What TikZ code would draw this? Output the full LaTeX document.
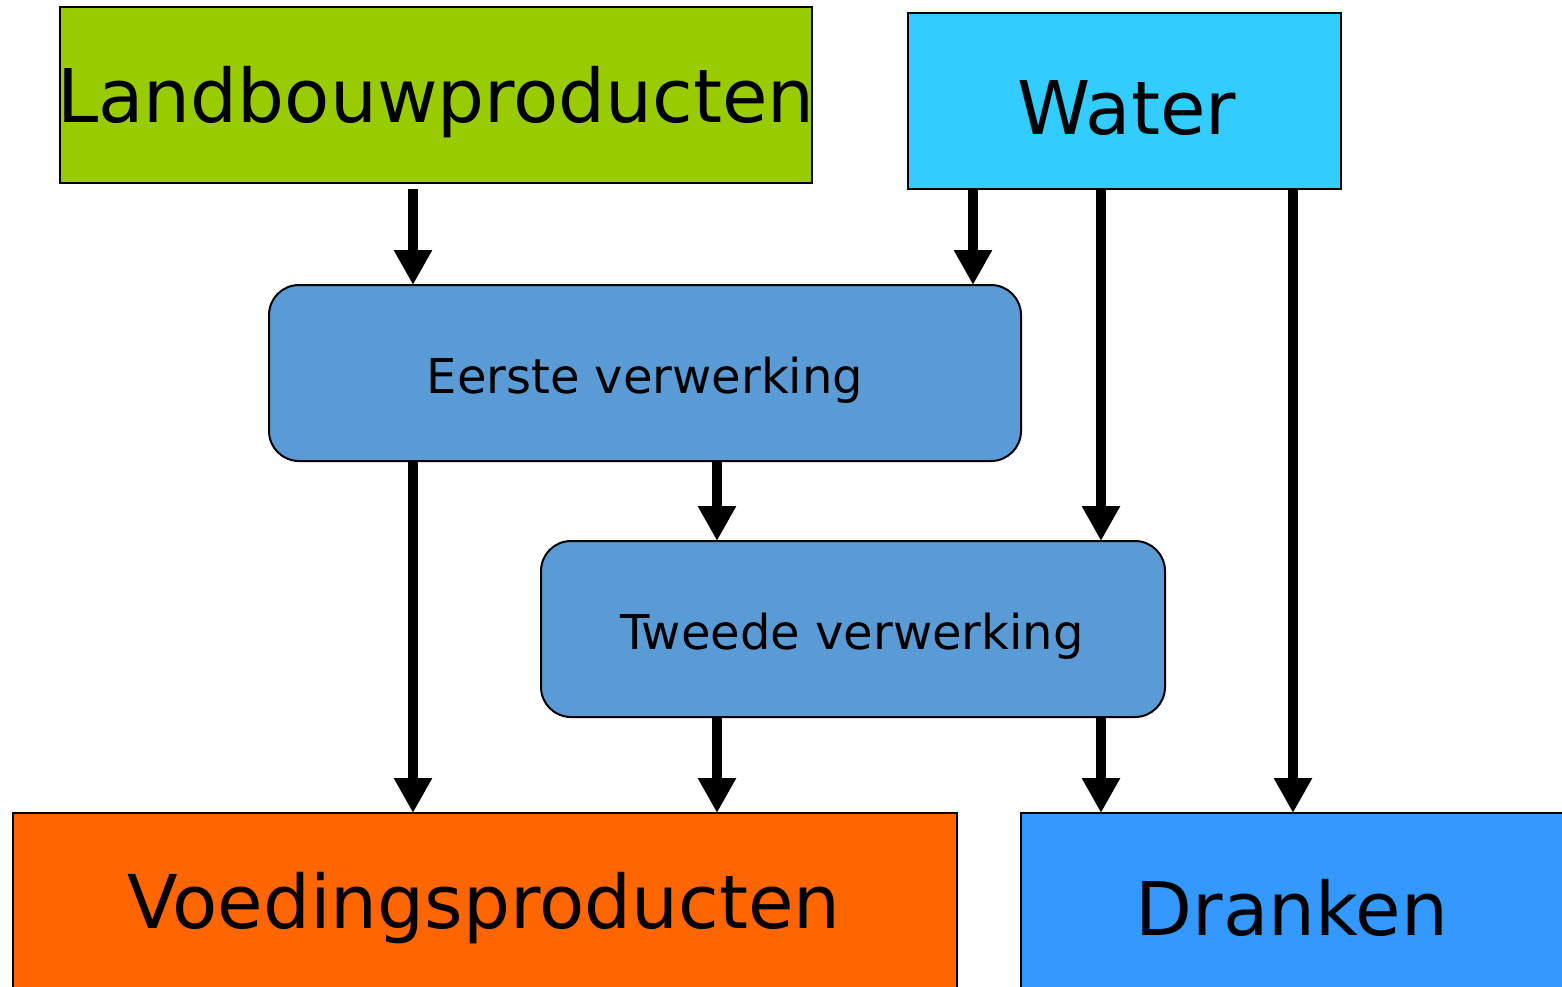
\documentclass[tikz,border=0pt]{standalone}
\usepackage{fontspec}
\setmainfont{DejaVu Sans}
\usetikzlibrary{arrows.meta}
\definecolor{lbgreen}{HTML}{99CC00}
\definecolor{watercyan}{HTML}{33CCFF}
\definecolor{procblue}{HTML}{5B9BD5}
\definecolor{foodorange}{HTML}{FF6600}
\definecolor{drinkblue}{HTML}{3399FF}
\begin{document}
\begin{tikzpicture}[x=1pt,y=-1pt,
  box/.style={draw=black,line width=2pt,inner sep=0pt,outer sep=0pt,anchor=north west,minimum height=176pt},
  bigtext/.style={font=\fontsize{74}{80}\selectfont,inner sep=0pt},
  smalltext/.style={font=\fontsize{48}{54}\selectfont,inner sep=0pt},
  procbox/.style={box,fill=procblue,rounded corners=30pt},
  arr/.style={line width=10pt,-{Triangle[width=36pt,length=35pt]}}]
\useasboundingbox (0,0) rectangle (1562,986);
\clip (0,0) rectangle (1562,986);
\node[box,fill=lbgreen,minimum width=752pt] (lb) at (60,7) {};
\node[box,fill=watercyan,minimum width=433pt] (wa) at (908,13) {};
\node[procbox,minimum width=752pt] (e1) at (269,285) {};
\node[procbox,minimum width=624pt] (e2) at (541,541) {};
\node[box,fill=foodorange,minimum width=944pt] (vp) at (13,813) {};
\node[box,fill=drinkblue,minimum width=542pt] (dr) at (1021,813) {};
\node[bigtext] (lbt) at ([xshift=0pt,yshift=-7pt]lb.center) {Landbouwproducten};
\node[bigtext] (wat) at ([xshift=2pt,yshift=-7pt]wa.center) {Water};
\node[smalltext] (e1t) at ([yshift=-7pt]e1.center) {Eerste verwerking};
\node[smalltext] (e2t) at ([xshift=-1pt,yshift=-7pt]e2.center) {Tweede verwerking};
\node[bigtext] (vpt) at ([xshift=-1pt,yshift=-7pt]vp.center) {Voedingsproducten};
\node[bigtext] (drt) at ([yshift=-7pt]dr.center) {Dranken};
\coordinate (xa) at (413,0);
\coordinate (xb) at (973,0);
\coordinate (xc) at (1101,0);
\coordinate (xd) at (1293,0);
\coordinate (xe) at (717,0);
\draw[arr] ([yshift=-6pt]lb.south -| xa) -- (e1.north -| xa);
\draw[arr] (wa.south -| xb) -- (e1.north -| xb);
\draw[arr] (wa.south -| xc) -- (e2.north -| xc);
\draw[arr] (wa.south -| xd) -- (dr.north -| xd);
\draw[arr] (e1.south -| xa) -- (vp.north -| xa);
\draw[arr] (e1.south -| xe) -- (e2.north -| xe);
\draw[arr] (e2.south -| xe) -- (vp.north -| xe);
\draw[arr] (e2.south -| xc) -- (dr.north -| xc);
\end{tikzpicture}
\end{document}
